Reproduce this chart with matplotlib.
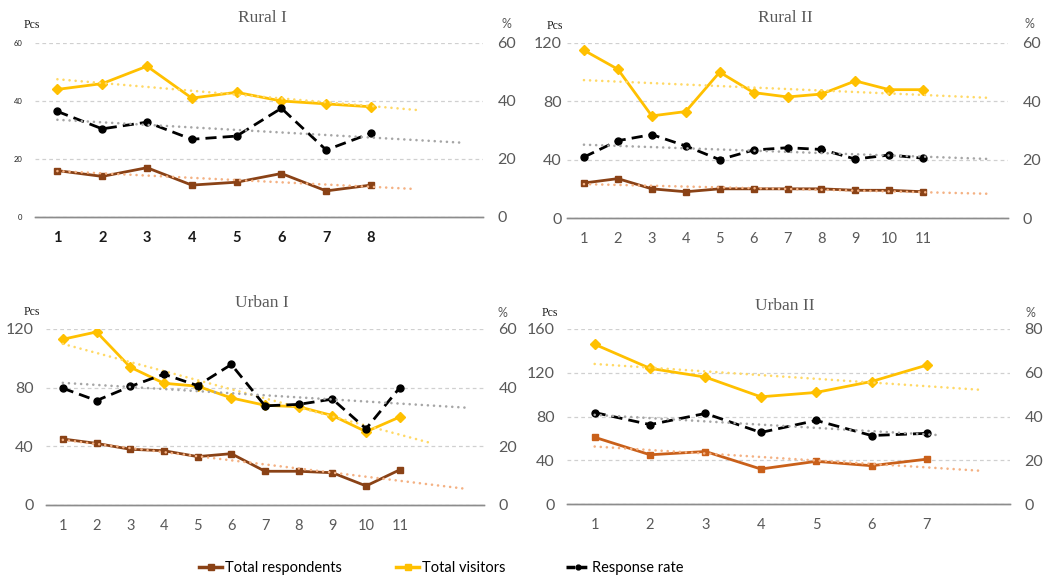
import numpy as np
import matplotlib.pyplot as plt
from matplotlib.lines import Line2D

# ---------------------------------------------------------------------------
# Values
# ---------------------------------------------------------------------------
rural1_days = [1, 2, 3, 4, 5, 6, 7, 8]
rural1_respondents = [16, 14, 17, 11, 12, 15, 9, 11]
rural1_visitors = [44, 46, 52, 41, 43, 40, 39, 38]
rural1_rate = [36.4, 30.4, 32.7, 26.8, 27.9, 37.5, 23.1, 28.9]

rural2_days = [1, 2, 3, 4, 5, 6, 7, 8, 9, 10, 11]
rural2_respondents = [24, 27, 20, 18, 20, 20, 20, 20, 19, 19, 18]
rural2_visitors = [115, 102, 70, 73, 100, 86, 83, 85, 94, 88, 88]
rural2_rate = [20.9, 26.5, 28.6, 24.7, 20.0, 23.3, 24.1, 23.5, 20.2, 21.6, 20.5]

urban1_days = [1, 2, 3, 4, 5, 6, 7, 8, 9, 10, 11]
urban1_respondents = [45, 42, 38, 37, 33, 35, 23, 23, 22, 13, 24]
urban1_visitors = [113, 118, 94, 83, 81, 73, 68, 67, 61, 50, 60]
urban1_rate = [39.8, 35.6, 40.4, 44.6, 40.7, 47.9, 33.8, 34.3, 36.1, 26.0, 40.0]

urban2_days = [1, 2, 3, 4, 5, 6, 7]
urban2_respondents = [61, 45, 48, 32, 39, 35, 41]
urban2_visitors = [146, 124, 116, 98, 102, 112, 127]
urban2_rate = [41.8, 36.3, 41.4, 32.7, 38.2, 31.3, 32.3]

series_names = ["Total respondents", "Total visitors", "Response rate"]

YELLOW = "#FFC000"
BROWN = "#8A4216"
BROWN_U2 = "#C9601A"
TREND_Y = "#FFD966"
TREND_O = "#F4B183"
TREND_G = "#A6A6A6"
GREY_TXT = "#595959"
NUM_FONT = "Lato"

W, H = 1046, 578
fig = plt.figure(figsize=(W / 100, H / 100), dpi=100)


def fx(px):
    return px / W


def fy(py):
    return 1 - py / H


def trend(ax, x, y, end, color):
    # linear least-squares trendline with forward forecast, like Excel's
    k, b = np.polyfit(x, y, 1)
    xs = np.array([x[0], end])
    ax.plot(xs, k * xs + b, color=color, lw=1.9, ls=(0, (0.01, 2.3)),
            dash_capstyle="round", zorder=6)


def panel(box, title, title_xy, n_cats, days, resp, vis, rate,
          lmax, lstep, rmax, rstep, ends, resp_color,
          pcs_xy, pct_xy, lpad=10, small_left=False, dark_x=False):
    x0, y0, x1, y1 = box
    ax = fig.add_axes([fx(x0), fy(y1), fx(x1 - x0), (y1 - y0) / H])
    ax2 = ax.twinx()

    ax.plot(days, resp, color=resp_color, lw=2, marker="s", ms=5, zorder=4)
    ax.plot(days, vis, color=YELLOW, lw=2, marker="D", ms=5, zorder=4)
    ax2.plot(days, rate, color="black", lw=2, ls=(0, (4, 2.2)),
             marker="o", ms=5, zorder=4)

    trend(ax, days, resp, ends[0], TREND_O)
    trend(ax, days, vis, ends[1], TREND_Y)
    trend(ax2, days, rate, ends[2], TREND_G)

    ax.set_xlim(0.5, n_cats + 0.5)
    ax.set_ylim(0, lmax)
    ax2.set_ylim(0, rmax)
    ax.set_yticks(np.arange(0, lmax + 1, lstep))
    ax2.set_yticks(np.arange(0, rmax + 1, rstep))
    ax.set_xticks(days)
    ax.set_xticklabels([str(d) for d in days])

    ax.grid(axis="y", color="#D0D0D0", lw=0.9, ls=(0, (3, 2.5)))
    ax.set_axisbelow(True)
    for a in (ax, ax2):
        for s in ("top", "left", "right"):
            a.spines[s].set_visible(False)
        a.spines["bottom"].set_color("#8C8C8C")
        a.spines["bottom"].set_linewidth(1.0)
        a.tick_params(length=0)

    if small_left:
        ax.tick_params(axis="y", labelsize=5.5, labelcolor="#222222", pad=lpad)
    else:
        ax.tick_params(axis="y", labelsize=11.5, labelcolor=GREY_TXT, pad=lpad)
    ax2.tick_params(axis="y", labelsize=11.5, labelcolor=GREY_TXT, pad=10.5)
    ax.tick_params(axis="x", labelsize=10.5, pad=10,
                   labelcolor="#1A1A1A" if dark_x else GREY_TXT)
    xlabs = ax.get_xticklabels()
    for lab in xlabs + ax.get_yticklabels() + ax2.get_yticklabels():
        lab.set_family(NUM_FONT)
    if dark_x:
        for lab in xlabs:
            lab.set_weight("bold")

    fig.text(fx(title_xy[0]), fy(title_xy[1]), title, ha="center", va="center",
             family="Liberation Serif", fontsize=12.5, color=GREY_TXT)
    fig.text(fx(pcs_xy[0]), fy(pcs_xy[1]), "Pcs", ha="center", va="center",
             family="Liberation Serif", fontsize=8.5, color="#1A1A1A")
    fig.text(fx(pct_xy[0]), fy(pct_xy[1]), "%", ha="center", va="center",
             family=NUM_FONT, fontsize=9, color=GREY_TXT)


panel((35, 43, 483, 217), "Rural I", (262, 18), 10,
      rural1_days, rural1_respondents, rural1_visitors, rural1_rate,
      60, 20, 60, 20, (9, 9, 10), BROWN, (32, 25), (506, 24),
      lpad=9, small_left=True, dark_x=True)
panel((567, 43, 1008, 218), "Rural II", (785, 18), 13,
      rural2_days, rural2_respondents, rural2_visitors, rural2_rate,
      120, 40, 60, 20, (13, 13, 13), BROWN, (555, 26), (1029, 24), lpad=4)
panel((46, 329, 484, 505), "Urban I", (262, 303), 13,
      urban1_days, urban1_respondents, urban1_visitors, urban1_rate,
      120, 40, 60, 20, (13, 12, 13), BROWN, (32, 312), (502, 313), lpad=9)
panel((567, 329, 1010, 504), "Urban II", (785, 306), 8,
      urban2_days, urban2_respondents, urban2_visitors, urban2_rate,
      160, 40, 80, 20, (8, 8, 7.2), BROWN_U2, (550, 313), (1030, 313), lpad=9)

# Legend, three separate entries spread along the bottom
handles = [
    Line2D([], [], color=BROWN, lw=2.5, marker="s", ms=4),
    Line2D([], [], color=YELLOW, lw=2.5, marker="s", ms=4),
    Line2D([], [], color="black", lw=2.5, ls=(0, (2.5, 1)), marker="o", ms=3.5),
]
for h, name, px in zip(handles, series_names, (199, 396, 566)):
    fig.legend([h], [name], loc="center left", bbox_to_anchor=(fx(px), fy(568)),
               frameon=False, handlelength=1.6, handletextpad=0.2,
               borderpad=0, borderaxespad=0,
               prop={"family": NUM_FONT, "size": 10.5})

fig.savefig("out.png", dpi=100)
